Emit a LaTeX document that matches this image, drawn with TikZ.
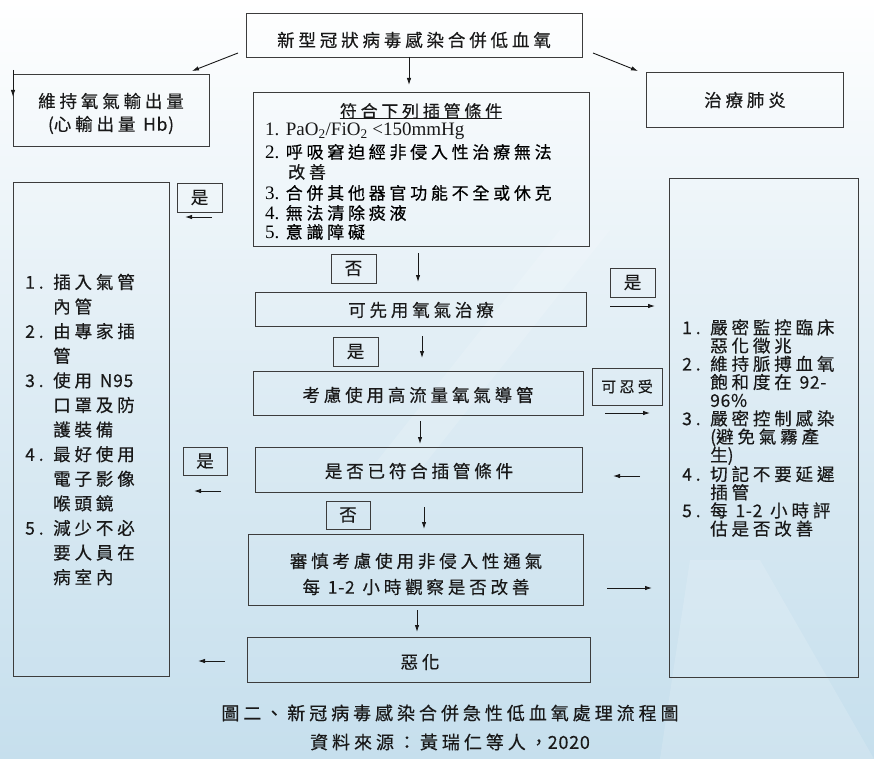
\documentclass[tikz,border=0pt]{standalone}
\usepackage{fontspec}
\setmainfont{Liberation Serif}
\newfontfamily\cjk{Noto Sans CJK TC}[LetterSpace=22,FakeBold=0.4]
\newfontfamily\lat{Noto Sans CJK TC}[LetterSpace=4,FakeBold=0.4]
\usetikzlibrary{arrows.meta}
\definecolor{bgblue}{RGB}{198,223,237}
\definecolor{bgmid}{RGB}{222,236,244}
\definecolor{edge}{RGB}{60,60,60}
\definecolor{ink}{RGB}{25,25,25}
\newcommand\mybox[5]{\node[box, minimum width={#4-#2}, minimum height={#5-#3}] (#1) at ({(#2+#4)/2},{(#3+#5)/2}) {};}
\newcommand\myarrow[5]{\coordinate (#1s) at (#2,#3); \coordinate (#1e) at (#4,#5); \draw[arr] (#1s) -- (#1e);}
\newcommand\LT[1]{{\lat #1}}
\begin{document}
\begin{tikzpicture}[x=1pt,y=-1pt,
  box/.style={draw=edge, line width=0.9pt, inner sep=0pt},
  arr/.style={draw=ink, line width=0.9pt, -{Latex[length=7pt,width=4.5pt]}},
  lab/.style={font=\cjk\fontsize{17.5}{19}\selectfont, text=ink, inner sep=0pt},
  ser/.style={font=\fontsize{19}{20}\selectfont, text=ink, inner sep=0pt},
]
\useasboundingbox (0,0) rectangle (874,759);
% background
\shade[top color=white, bottom color=bgblue, middle color=bgmid] (0,0) rectangle (874,759);
\fill[white, opacity=0.15] (560,230) -- (610,230) -- (420,470) -- (370,470) -- cycle;
\fill[white, opacity=0.15] (690,560) -- (760,560) -- (874,759) -- (660,759) -- cycle;

% boxes
\mybox{top}{246}{13}{582}{57}
\mybox{keep}{13}{74}{209}{146}
\mybox{pneu}{646}{72}{843}{127}
\mybox{cond}{253}{92}{589}{246}
\mybox{left}{13}{182}{169}{676}
\mybox{right}{669}{178}{858}{677}
\mybox{yes1}{177}{183}{222}{212}
\mybox{no1}{331}{254}{376}{283}
\mybox{oxy}{255}{292}{586}{326}
\mybox{yes2}{610}{268}{655}{297}
\mybox{yes3}{333}{337}{378}{366}
\mybox{hfnc}{253}{371}{583}{415}
\mybox{tol}{592}{368}{662}{405}
\mybox{check}{255}{447}{582}{492}
\mybox{yes4}{183}{447}{227}{475}
\mybox{no2}{326}{501}{370}{529}
\mybox{niv}{248}{534}{583}{605}
\mybox{worse}{247}{637}{590}{682}

% texts
\node[lab] (ttop) at (414,40) {新型冠狀病毒感染合併低血氧};
\node[lab, align=center, font=\cjk\fontsize{17.5}{23}\selectfont] (tkeep) at (111,113.5) {維持氧氣輸出量\\\LT{(}心輸出量 \LT{Hb)}};
\node[lab] (tpneu) at (745,100) {治療肺炎};
\node[lab, font=\cjk\fontsize{17}{19}\selectfont] (tc0) at (421,111) {符合下列插管條件};
\draw[ink, line width=0.7pt] ([yshift=1pt]tc0.south west) -- ([yshift=1pt]tc0.south east);
\node[ser, anchor=west] (tc1) at (265,131) {1. PaO\textsubscript{2}/FiO\textsubscript{2} <150mmHg};
\node[anchor=west, inner sep=0pt] (tc2) at (265,152) {\fontsize{19}{20}\selectfont 2. \cjk\fontsize{17}{19}\selectfont 呼吸窘迫經非侵入性治療無法};
\node[lab, anchor=west, font=\cjk\fontsize{17}{19}\selectfont] (tc2b) at (288,172) {改善};
\node[anchor=west, inner sep=0pt] (tc3) at (265,193) {\fontsize{19}{20}\selectfont 3. \cjk\fontsize{17}{19}\selectfont 合併其他器官功能不全或休克};
\node[anchor=west, inner sep=0pt] (tc4) at (265,213) {\fontsize{19}{20}\selectfont 4. \cjk\fontsize{17}{19}\selectfont 無法清除痰液};
\node[anchor=west, inner sep=0pt] (tc5) at (265,232) {\fontsize{19}{20}\selectfont 5. \cjk\fontsize{17}{19}\selectfont 意識障礙};

\node[lab, anchor=west, align=left, font=\cjk\fontsize{17.5}{24.6}\selectfont] (tleft) at (25,429.5) {%
\makebox[28pt][l]{1.}插入氣管\\\hspace*{28pt}內管\\
\makebox[28pt][l]{2.}由專家插\\\hspace*{28pt}管\\
\makebox[28pt][l]{3.}使用 \LT{N95}\\\hspace*{28pt}口罩及防\\\hspace*{28pt}護裝備\\
\makebox[28pt][l]{4.}最好使用\\\hspace*{28pt}電子影像\\\hspace*{28pt}喉頭鏡\\
\makebox[28pt][l]{5.}減少不必\\\hspace*{28pt}要人員在\\\hspace*{28pt}病室內};

\node[lab, anchor=west, align=left, font=\cjk\fontsize{17.5}{18.2}\selectfont] (tright) at (682,428) {%
\makebox[28pt][l]{1.}嚴密監控臨床\\\hspace*{28pt}惡化徵兆\\
\makebox[28pt][l]{2.}維持脈搏血氧\\\hspace*{28pt}飽和度在 \LT{92-}\\\hspace*{28pt}\LT{96\%}\\
\makebox[28pt][l]{3.}嚴密控制感染\\\hspace*{28pt}\LT{(}避免氣霧產\\\hspace*{28pt}生\LT{)}\\
\makebox[28pt][l]{4.}切記不要延遲\\\hspace*{28pt}插管\\
\makebox[28pt][l]{5.}每 \LT{1-2} 小時評\\\hspace*{28pt}估是否改善};

\node[lab] (lyes1) at (yes1) {是};
\node[lab] (lno1) at (no1) {否};
\node[lab] (toxy) at (421,310) {可先用氧氣治療};
\node[lab] (lyes2) at (yes2) {是};
\node[lab] (lyes3) at (yes3) {是};
\node[lab] (thfnc) at (418,395) {考慮使用高流量氧氣導管};
\node[lab, font=\cjk\fontsize{15}{16}\selectfont] (ltol) at (tol) {可忍受};
\node[lab] (tcheck) at (419,471) {是否已符合插管條件};
\node[lab] (lyes4) at (yes4) {是};
\node[lab] (lno2) at (no2) {否};
\node[lab, align=center, font=\cjk\fontsize{17.5}{26}\selectfont] (tniv) at (416,574) {審慎考慮使用非侵入性通氣\\每 \LT{1-2} 小時觀察是否改善};
\node[lab] (tworse) at (420,662) {惡化};

\node[lab, font=\cjk\fontsize{18}{19}\selectfont] (cap1) at (450,713) {圖二、新冠病毒感染合併急性低血氧處理流程圖};
\node[lab, font=\cjk\fontsize{18}{19}\selectfont] (cap2) at (450,742) {資料來源：黃瑞仁等人，\LT{2020}};

% arrows
\myarrow{a1}{409}{57}{409}{85}
\myarrow{a2}{238}{53}{192}{71}
\myarrow{a3}{593}{53}{638}{71}
\myarrow{a4}{13}{70}{13}{97}
\myarrow{a5}{212}{217}{185}{217}
\myarrow{a6}{418}{253}{418}{282}
\myarrow{a7}{610}{306}{655}{306}
\myarrow{a8}{422}{336}{422}{358}
\myarrow{a9}{605}{413}{650}{413}
\myarrow{a10}{420}{421}{420}{444}
\myarrow{a11}{221}{491}{194}{491}
\myarrow{a12}{640}{476}{613}{476}
\myarrow{a13}{424}{507}{424}{529}
\myarrow{a14}{607}{588}{652}{588}
\myarrow{a15}{417}{610}{417}{632}
\myarrow{a16}{225}{661}{198}{661}
\end{tikzpicture}
\end{document}
